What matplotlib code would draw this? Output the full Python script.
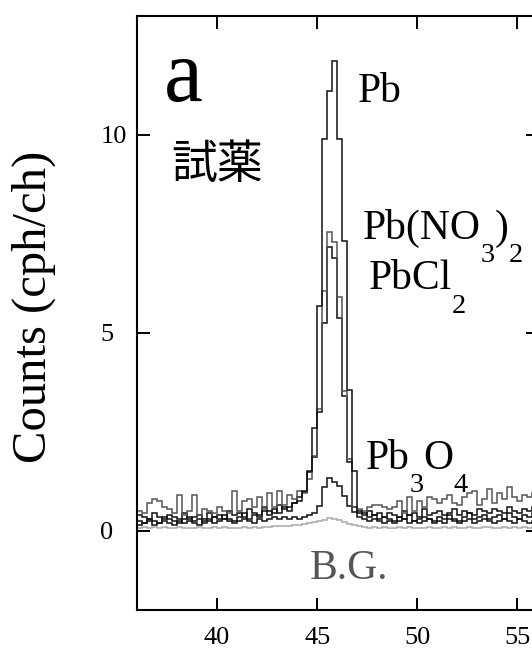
import numpy as np
import matplotlib
matplotlib.use("Agg")
import matplotlib.pyplot as plt
import matplotlib.transforms as mtransforms

# ---------------- data ----------------
channel_start = 36.0
channel_width = 0.25

pb = [0.25, 0.20, 0.30, 0.25, 0.20, 0.35, 0.30, 0.25, 0.20, 0.30,
      0.35, 0.25, 0.30, 0.20, 0.25, 0.35, 0.30, 0.40, 0.30, 0.25,
      0.35, 0.45, 0.30, 0.40, 0.35, 0.50, 0.40, 0.55, 0.45, 0.60,
      0.50, 0.70, 0.75, 1.00, 1.50, 2.60, 5.67, 9.90, 11.10, 11.87,
      9.90, 7.32, 3.55, 1.50, 0.50, 0.45, 0.35, 0.40, 0.30, 0.35,
      0.30, 0.25, 0.35, 0.30, 0.40, 0.25, 0.30, 0.35, 0.30, 0.25,
      0.35, 0.30, 0.40, 0.30, 0.25, 0.35, 0.45, 0.30, 0.35, 0.40,
      0.30, 0.35, 0.40, 0.30, 0.45, 0.35, 0.30, 0.40, 0.35, 0.45]

pb_no3 = [0.50, 0.45, 0.70, 0.80, 0.75, 0.60, 0.55, 0.45, 0.90, 0.40,
          0.50, 0.90, 0.40, 0.55, 0.50, 0.45, 0.60, 0.50, 0.45, 1.00,
          0.50, 0.75, 0.80, 0.60, 0.85, 0.55, 0.95, 0.60, 1.00, 0.65,
          0.90, 0.80, 1.00, 0.95, 1.30, 1.90, 3.07, 6.05, 7.55, 7.30,
          5.90, 3.53, 1.81, 0.60, 0.55, 0.50, 0.60, 0.65, 0.65, 0.60,
          0.55, 0.60, 0.75, 0.45, 0.85, 0.50, 0.75, 0.60, 0.85, 0.80,
          0.70, 0.80, 0.90, 0.70, 0.65, 0.85, 0.95, 1.00, 0.65, 0.80,
          1.05, 0.70, 0.95, 0.80, 1.10, 0.85, 0.75, 0.90, 0.85, 0.95]

pb_cl2 = [0.40, 0.35, 0.30, 0.45, 0.35, 0.30, 0.40, 0.35, 0.30, 0.45,
          0.30, 0.35, 0.40, 0.30, 0.45, 0.35, 0.40, 0.30, 0.50, 0.40,
          0.45, 0.35, 0.55, 0.45, 0.40, 0.60, 0.50, 0.45, 0.65, 0.55,
          0.60, 0.70, 0.85, 0.98, 1.48, 1.86, 3.00, 5.24, 7.16, 6.90,
          5.37, 3.40, 1.73, 0.60, 0.45, 0.40, 0.50, 0.40, 0.45, 0.35,
          0.45, 0.40, 0.35, 0.50, 0.40, 0.45, 0.35, 0.55, 0.40, 0.45,
          0.50, 0.40, 0.45, 0.55, 0.40, 0.50, 0.45, 0.40, 0.55, 0.50,
          0.45, 0.55, 0.50, 0.45, 0.60, 0.50, 0.45, 0.55, 0.50, 0.60]

pb3o4 = [0.15, 0.20, 0.25, 0.15, 0.20, 0.25, 0.20, 0.15, 0.25, 0.20,
         0.25, 0.20, 0.15, 0.25, 0.30, 0.20, 0.25, 0.30, 0.25, 0.20,
         0.25, 0.30, 0.25, 0.20, 0.30, 0.25, 0.30, 0.35, 0.30, 0.35,
         0.30, 0.35, 0.30, 0.35, 0.40, 0.45, 0.63, 1.10, 1.33, 1.22,
         1.12, 0.88, 0.63, 0.47, 0.35, 0.30, 0.25, 0.30, 0.25, 0.20,
         0.25, 0.20, 0.25, 0.30, 0.20, 0.25, 0.20, 0.25, 0.30, 0.20,
         0.25, 0.20, 0.30, 0.25, 0.20, 0.25, 0.30, 0.20, 0.25, 0.30,
         0.25, 0.20, 0.25, 0.30, 0.25, 0.20, 0.30, 0.25, 0.20, 0.25]

bg = [0.08, 0.10, 0.07, 0.09, 0.08, 0.10, 0.06, 0.08, 0.09, 0.07,
      0.08, 0.06, 0.09, 0.07, 0.08, 0.10, 0.07, 0.09, 0.08, 0.06,
      0.08, 0.09, 0.07, 0.10, 0.08, 0.09, 0.10, 0.12, 0.11, 0.13,
      0.12, 0.15, 0.14, 0.17, 0.20, 0.22, 0.25, 0.28, 0.32, 0.30,
      0.27, 0.22, 0.18, 0.15, 0.12, 0.10, 0.08, 0.09, 0.07, 0.10,
      0.08, 0.07, 0.09, 0.08, 0.10, 0.07, 0.08, 0.06, 0.09, 0.08,
      0.07, 0.09, 0.08, 0.10, 0.07, 0.08, 0.09, 0.07, 0.08, 0.10,
      0.09, 0.07, 0.08, 0.10, 0.08, 0.09, 0.07, 0.10, 0.08, 0.09]

x_ticks = [40, 45, 50, 55]
y_ticks = [0, 5, 10]

# ---------------- figure ----------------
plt.rcParams['font.family'] = ['Liberation Serif', 'DejaVu Serif']

W, H, DPI = 532, 651, 100
fig = plt.figure(figsize=(W / DPI, H / DPI), dpi=DPI)
ax = fig.add_axes([137 / W, 1 - 610 / H, (537.5 - 137) / W, (610 - 16) / H])

n = len(pb)
edges = channel_start + channel_width * np.arange(n + 1)

series = [
    (bg, '#aaaaaa', 1.1),
    (pb3o4, '#111111', 1.1),
    (pb_cl2, '#111111', 1.1),
    (pb_no3, '#555555', 1.1),
    (pb, '#111111', 1.1),
]
for vals, col, lw in series:
    ax.stairs(vals, edges, color=col, linewidth=lw, baseline=None)

ax.set_xlim(36, 56)
ax.set_ylim(-2, 13)
ax.set_xticks(x_ticks)
ax.set_yticks(y_ticks)
for s in ax.spines.values():
    s.set_linewidth(1.5)
ax.tick_params(direction='in', length=9, width=1.4, top=True, right=True,
               labelsize=19, colors='black')
ax.tick_params(axis='x', pad=12)
ax.tick_params(axis='y', pad=26.5)
for lab in ax.get_yticklabels():
    lab.set_horizontalalignment('left')

fig.text(34 / W, 1 - 307 / H, 'Counts (cph/ch)', rotation=90, ha='center',
         va='center', fontsize=35)

# panel letter and labels
ax.text(37.35, 10.85, 'a', fontsize=63, ha='left', va='baseline')
ax.text(37.7, 9.25, '試薬', fontsize=33, ha='left', va='center',
        family=['Noto Sans CJK JP', 'DejaVu Sans'])

renderer = fig.canvas.get_renderer()


def draw_formula(x, y, parts, size, color='black'):
    dx = 0.0
    for txt, sub in parts:
        fs = size * 0.68 if sub else size
        dy = -size * 0.56 if sub else 0.0
        tr = ax.transData + mtransforms.ScaledTranslation(dx / 72, dy / 72,
                                                           fig.dpi_scale_trans)
        t = ax.text(x, y, txt, fontsize=fs, transform=tr, ha='left',
                    va='baseline', color=color)
        w = t.get_window_extent(renderer).width
        dx += w * 72 / fig.dpi


draw_formula(47.0, 10.83, [('Pb', False)], 30)
draw_formula(47.25, 7.37, [('Pb(NO', False), ('3', True), (')', False), ('2', True)], 30)
draw_formula(47.55, 6.10, [('PbCl', False), ('2', True)], 30)
draw_formula(47.4, 1.56, [('Pb', False), ('3', True), ('O', False), ('4', True)], 30)
draw_formula(44.65, -1.22, [('B.G.', False)], 30, color='#555555')

fig.savefig('out.png', dpi=DPI)
